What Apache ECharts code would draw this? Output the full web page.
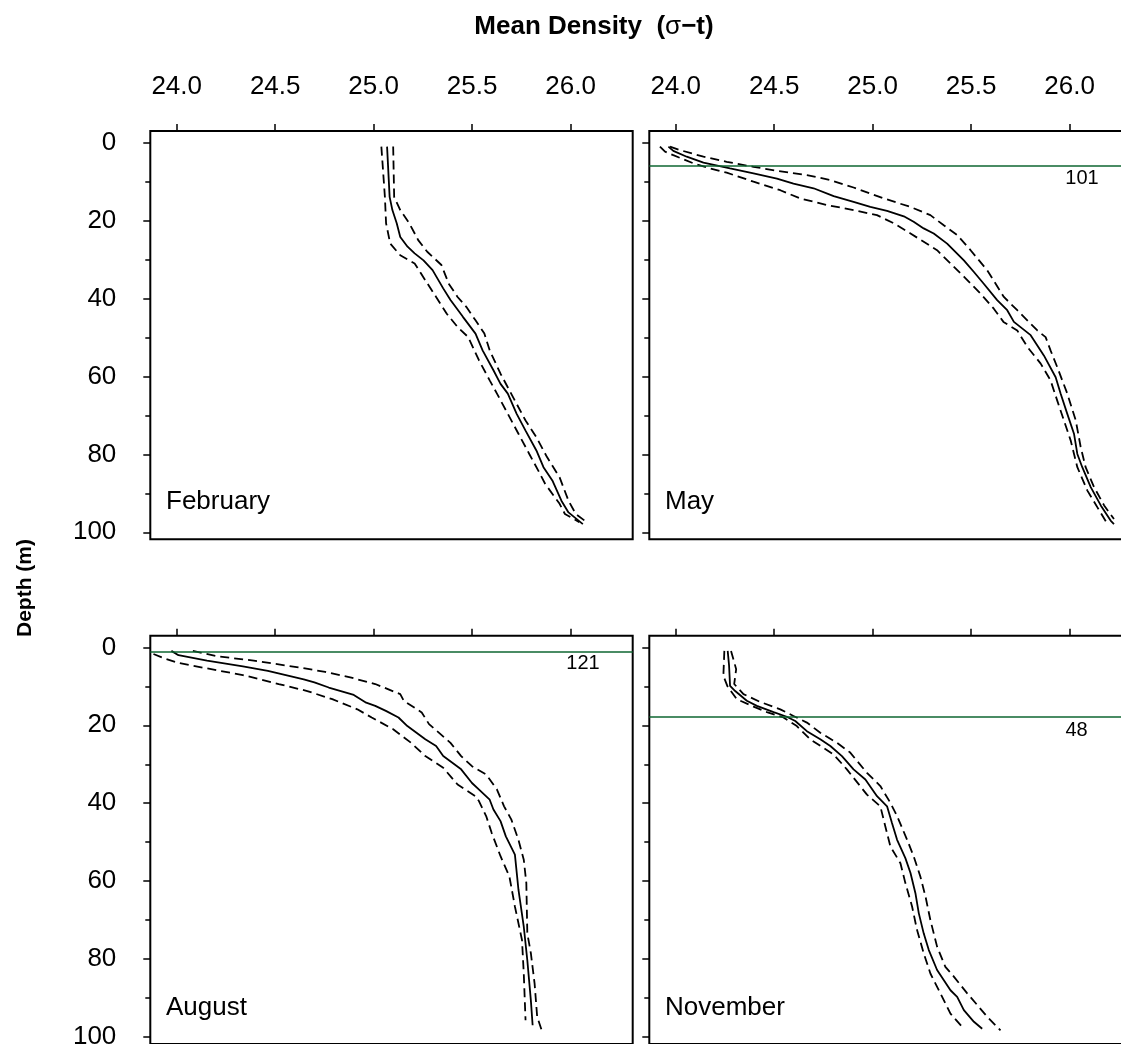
<!DOCTYPE html>
<html>
<head>
<meta charset="utf-8">
<script src="https://cdn.jsdelivr.net/npm/echarts@6/dist/echarts.min.js"></script>
<style>html,body{margin:0;padding:0;background:#fff}#c{width:1121px;height:1044px}</style>
</head>
<body>
<div id="c"></div>
<script>
// ---- data (density sigma-t, depth m) ----
const panelNames = ['February', 'May', 'August', 'November'];
const xTicks = [24.0, 24.5, 25.0, 25.5, 26.0];
const yMajorTicks = [0, 20, 40, 60, 80, 100];
const yMinorTicks = [10, 30, 50, 70, 90];
const lineDepths = [null, 5.9, 1.1, 17.9];
const lineLabels = [null, '101', '121', '48'];

const febMean = [[25.068,1.0],[25.081,13.9],[25.095,17.3],[25.117,20.7],[25.135,24.2],[25.172,26.7],[25.208,28.4],[25.253,30.2],[25.299,32.7],[25.353,37.4],[25.390,40.4],[25.453,44.7],[25.517,49.0],[25.553,53.3],[25.608,58.4],[25.644,61.9],[25.681,64.4],[25.726,69.6],[25.771,73.9],[25.826,79.0],[25.862,83.3],[25.907,86.7],[25.953,91.9],[25.989,94.9],[26.062,97.9]];
const febLow = [[25.039,1.0],[25.057,13.9],[25.063,20.7],[25.084,25.9],[25.135,28.9],[25.208,31.0],[25.262,35.3],[25.317,39.6],[25.371,43.9],[25.426,47.3],[25.480,49.9],[25.535,55.9],[25.589,61.0],[25.626,64.4],[25.681,69.6],[25.735,74.7],[25.790,79.9],[25.835,84.1],[25.871,87.6],[25.944,92.7],[25.971,95.3],[26.044,97.4]];
const febHigh = [[25.099,1.0],[25.104,13.9],[25.135,17.3],[25.181,20.7],[25.226,25.0],[25.272,28.0],[25.344,31.4],[25.381,36.2],[25.426,39.6],[25.471,42.2],[25.517,45.6],[25.562,49.0],[25.589,53.3],[25.644,59.3],[25.698,64.4],[25.735,67.9],[25.771,71.3],[25.826,75.6],[25.880,80.7],[25.944,85.9],[25.989,91.9],[26.026,95.3],[26.071,97.0]];

const mayMean = [[23.963,1.0],[23.988,2.1],[24.056,3.6],[24.141,5.1],[24.276,6.6],[24.395,7.9],[24.514,9.2],[24.598,10.5],[24.700,11.7],[24.802,13.7],[24.903,15.2],[24.988,16.5],[25.073,17.5],[25.158,18.9],[25.208,20.3],[25.259,22.0],[25.310,23.3],[25.378,25.9],[25.463,30.2],[25.514,33.2],[25.564,36.2],[25.632,40.4],[25.683,43.0],[25.717,46.0],[25.802,49.4],[25.869,54.6],[25.929,60.2],[25.954,64.4],[25.988,69.6],[26.022,74.7],[26.039,79.9],[26.064,83.3],[26.107,88.4],[26.158,93.1],[26.208,97.0],[26.225,97.9]];
const mayLow = [[23.920,1.0],[23.946,2.3],[23.988,3.2],[24.090,5.3],[24.175,6.6],[24.259,7.7],[24.395,10.0],[24.531,12.2],[24.632,14.3],[24.768,16.0],[24.903,17.3],[25.022,18.6],[25.107,20.7],[25.192,23.3],[25.327,27.6],[25.395,31.0],[25.463,34.4],[25.547,38.7],[25.615,42.6],[25.664,46.0],[25.734,48.2],[25.785,52.4],[25.853,56.7],[25.903,61.0],[25.937,66.2],[25.971,71.3],[26.005,76.4],[26.039,83.3],[26.090,89.3],[26.141,93.6],[26.192,97.9]];
const mayHigh = [[23.971,1.0],[24.022,1.9],[24.141,3.6],[24.259,4.9],[24.395,6.2],[24.514,7.2],[24.666,8.3],[24.785,9.6],[24.903,11.5],[25.056,14.3],[25.192,16.5],[25.293,18.6],[25.361,21.2],[25.429,23.7],[25.497,27.6],[25.581,32.7],[25.666,39.6],[25.734,43.0],[25.836,48.2],[25.878,49.9],[25.903,53.3],[25.937,57.6],[25.988,64.4],[26.031,71.3],[26.056,78.1],[26.081,83.3],[26.124,88.4],[26.175,93.1],[26.225,96.6]];

const augMean = [[23.973,0.9],[24.009,2.0],[24.154,3.4],[24.336,4.9],[24.463,6.0],[24.554,7.1],[24.645,8.2],[24.699,9.0],[24.772,10.3],[24.899,12.2],[24.962,14.2],[25.008,15.0],[25.062,16.3],[25.126,18.0],[25.171,20.2],[25.262,23.6],[25.317,25.3],[25.353,27.9],[25.444,31.3],[25.499,34.8],[25.535,36.5],[25.589,39.1],[25.608,41.6],[25.644,44.6],[25.671,48.5],[25.717,53.2],[25.735,62.2],[25.762,71.7],[25.780,80.3],[25.798,90.6],[25.807,97.0]];
const augLow = [[23.882,1.7],[23.936,2.8],[24.009,4.0],[24.154,5.4],[24.336,7.1],[24.518,9.4],[24.663,11.2],[24.790,13.3],[24.917,15.9],[24.990,18.0],[25.099,21.0],[25.190,24.5],[25.262,27.9],[25.353,30.9],[25.426,35.2],[25.517,38.2],[25.535,39.5],[25.571,43.3],[25.599,47.6],[25.644,53.6],[25.689,58.8],[25.717,66.5],[25.753,75.1],[25.762,83.7],[25.771,95.7]];
const augHigh = [[24.082,0.9],[24.209,2.3],[24.391,3.4],[24.627,5.2],[24.754,6.3],[24.881,7.7],[25.008,9.4],[25.135,12.0],[25.153,13.7],[25.244,16.7],[25.281,19.7],[25.390,24.5],[25.444,27.9],[25.499,30.5],[25.571,32.6],[25.626,36.5],[25.662,40.8],[25.699,44.2],[25.735,49.4],[25.762,54.5],[25.775,60.5],[25.780,73.4],[25.798,78.5],[25.817,86.3],[25.830,94.8],[25.853,98.3]];

const novMean = [[24.264,0.9],[24.271,4.7],[24.276,9.9],[24.302,11.2],[24.361,13.7],[24.412,15.0],[24.497,16.6],[24.564,17.8],[24.607,18.9],[24.666,21.5],[24.734,23.6],[24.785,25.3],[24.844,27.9],[24.903,31.3],[24.963,33.9],[25.022,38.2],[25.073,40.8],[25.098,45.1],[25.124,49.4],[25.166,54.1],[25.192,57.9],[25.217,63.1],[25.234,68.2],[25.259,73.4],[25.285,77.7],[25.327,82.8],[25.395,88.0],[25.429,89.7],[25.463,93.1],[25.514,96.1],[25.556,97.9]];
const novLow = [[24.247,0.9],[24.242,7.3],[24.263,10.0],[24.310,13.3],[24.395,15.2],[24.463,16.6],[24.547,18.0],[24.615,20.2],[24.683,23.6],[24.802,27.5],[24.869,31.3],[24.971,37.8],[25.039,40.8],[25.064,45.9],[25.090,51.1],[25.141,55.4],[25.166,60.5],[25.200,66.5],[25.225,72.5],[25.259,78.5],[25.293,83.7],[25.344,88.8],[25.395,94.0],[25.463,97.9]];
const novHigh = [[24.281,0.9],[24.307,5.6],[24.297,9.4],[24.344,12.0],[24.429,14.0],[24.531,15.9],[24.598,17.6],[24.666,19.3],[24.734,21.9],[24.819,24.5],[24.886,27.0],[24.971,32.2],[25.039,35.6],[25.090,39.9],[25.124,43.3],[25.175,49.4],[25.208,53.6],[25.242,58.8],[25.268,63.9],[25.293,70.0],[25.327,76.8],[25.369,82.0],[25.412,84.5],[25.480,88.8],[25.531,91.8],[25.581,94.8],[25.649,98.3]];

const panelData = [
  [febMean, febLow, febHigh],
  [mayMean, mayLow, mayHigh],
  [augMean, augLow, augHigh],
  [novMean, novLow, novHigh]
];

// ---- layout ----
const FONT = "'Liberation Sans', Arial, Helvetica, sans-serif";
const gridPos = [
  {left: 150.3, top: 131, width: 482.4, height: 408.3},
  {left: 649.3, top: 131, width: 482.4, height: 408.3},
  {left: 150.3, top: 635.7, width: 482.4, height: 408.3},
  {left: 649.3, top: 635.7, width: 482.4, height: 408.3}
];
const labelDist = [null, [33, 3], [33, 2], [44, 3]];
const panelLabelPos = [[166, 502], [665, 502], [166, 1007.5], [665, 1007.5]];

const grids = [], xAxes = [], yAxes = [], series = [];
for (let i = 0; i < 4; i++) {
  grids.push(Object.assign({show: true, borderColor: '#000', borderWidth: 2, backgroundColor: 'transparent', containLabel: false, outerBoundsMode: 'none'}, gridPos[i]));
  xAxes.push({
    type: 'value', gridIndex: i, position: 'top', min: 23.866, max: 26.315,
    axisLine: {show: false, onZero: false},
    axisTick: {show: true, inside: false, length: 7, customValues: xTicks, lineStyle: {color: '#000', width: 1.5}},
    axisLabel: {show: i < 2, customValues: xTicks, formatter: v => v.toFixed(1), fontSize: 26, color: '#000', fontFamily: FONT, margin: 31},
    splitLine: {show: false}
  });
  yAxes.push({
    type: 'value', gridIndex: i, position: 'left', inverse: true, min: -3.0, max: 101.8,
    axisLine: {show: false, onZero: false},
    axisTick: {show: true, inside: false, length: 7, customValues: yMajorTicks, lineStyle: {color: '#000', width: 1.5}},
    axisLabel: {show: i % 2 === 0, customValues: yMajorTicks, fontSize: 26, color: '#000', fontFamily: FONT, margin: 34},
    splitLine: {show: false}
  });
  yAxes.push({
    type: 'value', gridIndex: i, position: 'left', offset: 0, inverse: true, min: -3.0, max: 101.8,
    axisLine: {show: false, onZero: false},
    axisTick: {show: true, inside: false, length: 5, customValues: yMinorTicks, lineStyle: {color: '#000', width: 1.5}},
    axisLabel: {show: false},
    splitLine: {show: false}
  });
  const [m, lo, hi] = panelData[i];
  const meanSeries = {
    type: 'line', name: panelNames[i] + ' mean', xAxisIndex: i, yAxisIndex: 2 * i,
    data: m, showSymbol: false, symbol: 'none', smooth: false,
    lineStyle: {color: '#000', width: 1.8, type: 'solid'}, z: 3
  };
  if (lineDepths[i] !== null) {
    meanSeries.markLine = {
      silent: true, symbol: ['none', 'none'], animation: false,
      lineStyle: {color: '#0e6630', width: 1.5, type: 'solid'},
      label: {show: true, position: 'insideEndBottom', formatter: lineLabels[i], distance: labelDist[i], color: '#000', fontSize: 20, fontFamily: FONT},
      data: [{yAxis: lineDepths[i]}]
    };
  }
  series.push(meanSeries);
  [lo, hi].forEach((d, k) => series.push({
    type: 'line', name: panelNames[i] + (k ? ' upper' : ' lower'), xAxisIndex: i, yAxisIndex: 2 * i,
    data: d, showSymbol: false, symbol: 'none', smooth: false,
    lineStyle: {color: '#000', width: 1.8, type: [9, 5]}, z: 2
  }));
}

const graphics = [
  {type: 'text', x: 594, y: 27, style: {
    text: '{b|Mean Density  (}{s|σ}{b|−t)}', align: 'center', verticalAlign: 'middle',
    rich: {b: {fontSize: 26, fontWeight: 'bold', fontFamily: FONT, fill: '#000'}, s: {fontSize: 26, fontFamily: FONT, fill: '#000'}}
  }},
  {type: 'text', x: 25, y: 588, rotation: Math.PI / 2, style: {
    text: 'Depth (m)', align: 'center', verticalAlign: 'middle',
    font: "bold 21px " + FONT, fill: '#000'
  }}
];
panelNames.forEach((n, i) => graphics.push({
  type: 'text', x: panelLabelPos[i][0], y: panelLabelPos[i][1],
  style: {text: n, align: 'left', verticalAlign: 'middle', font: "26px " + FONT, fill: '#000'}
}));

const chart = echarts.init(document.getElementById('c'), null, {renderer: 'canvas'});
chart.setOption({
  animation: false,
  backgroundColor: '#fff',
  grid: grids, xAxis: xAxes, yAxis: yAxes, series: series,
  graphic: graphics
});
</script>
</body>
</html>
